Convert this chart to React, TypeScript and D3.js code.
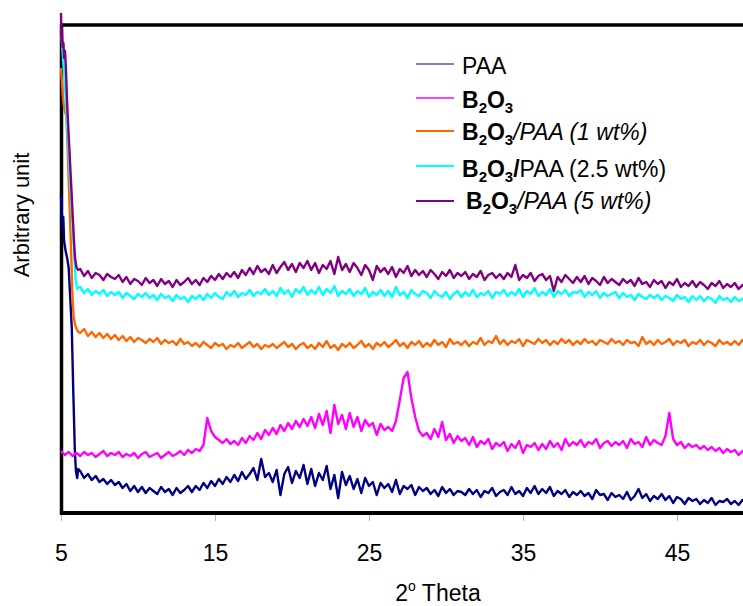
import React, { useEffect, useRef } from "react";
import * as d3 from "d3";

const W = 743;
const H = 606;

// x ticks (2 theta, degrees)
const xTicks = [5, 15, 25, 35, 45];

// Every series = a few hand-read points on the steep start (theta, intensity)
// followed by a scan read every 0.25 deg starting at 6.25 deg.
const SCAN_START = 6.25;
const SCAN_STEP = 0.25;

const paaHead = [
  [5.0, 318], [5.05, 300], [5.1, 285], [5.15, 296], [5.2, 272], [5.3, 262],
  [5.4, 255], [5.5, 245], [5.6, 215], [5.7, 185], [5.8, 120], [5.9, 62],
  [5.97, 42], [6.05, 35], [6.12, 44],
];
const paaScan = [
  42, 35, 39, 33, 37, 31, 34, 29, 33, 28,
  31, 25, 29, 22, 27, 21, 26, 20, 25, 22,
  19, 26, 21, 24, 18, 25, 20, 23, 27, 21,
  27, 23, 30, 25, 32, 27, 34, 29, 36, 31,
  38, 32, 41, 34, 39, 45, 33, 54, 36, 40,
  31, 43, 18, 39, 46, 30, 42, 35, 48, 29,
  44, 27, 40, 33, 47, 24, 38, 15, 41, 28,
  37, 24, 34, 20, 35, 27, 31, 18, 30, 25,
  29, 21, 33, 19, 27, 24, 28, 18, 26, 22,
  25, 19, 23, 17, 26, 20, 24, 18, 22, 21,
  18, 24, 19, 23, 16, 22, 20, 25, 17, 21,
  23, 18, 26, 19, 22, 17, 25, 20, 27, 19,
  24, 20, 26, 17, 22, 19, 23, 16, 21, 18,
  22, 17, 20, 14, 23, 18, 19, 13, 20, 16,
  18, 14, 21, 13, 17, 24, 15, 19, 12, 17,
  14, 19, 13, 17, 10, 16, 14, 9, 15, 12,
  14, 9, 13, 10, 15, 8, 12, 11, 14, 9,
  12, 8, 13, 10,
];

const b2o3Head = [[5.0, 62], [5.25, 58], [5.5, 61], [5.75, 57], [6.0, 60]];
const b2o3Scan = [
  57, 61, 58, 60, 56, 59, 62, 57, 60, 58,
  61, 56, 59, 57, 60, 55, 59, 61, 56, 58,
  60, 55, 58, 61, 57, 59, 62, 58, 63, 60,
  64, 62, 68, 95, 82, 76, 73, 70, 74, 69,
  72, 68, 75, 70, 77, 73, 80, 74, 83, 78,
  85, 79, 88, 82, 90, 84, 92, 86, 94, 87,
  96, 85, 99, 88, 102, 80, 108, 89, 98, 84,
  100, 86, 96, 82, 93, 87, 90, 78, 89, 83,
  86, 82, 92, 113, 135, 141, 115, 96, 82, 77,
  80, 74, 84, 76, 91, 73, 79, 70, 77, 72,
  75, 68, 76, 66, 72, 69, 74, 64, 70, 67,
  71, 62, 69, 65, 72, 60, 68, 66, 70, 63,
  69, 64, 72, 66, 70, 63, 74, 67, 71, 68,
  73, 66, 71, 69, 74, 65, 70, 72, 67, 71,
  68, 72, 65, 74, 69, 71, 66, 76, 68, 73,
  70, 68, 77, 100, 74, 68, 71, 65, 69, 66,
  68, 64, 67, 63, 66, 62, 65, 60, 64, 61,
  63, 58, 62, 59,
];

const wt1Head = [
  [5.0, 445], [5.07, 430], [5.13, 415], [5.2, 406], [5.27, 400], [5.35, 398],
  [5.45, 355], [5.55, 310], [5.65, 265], [5.75, 215], [5.82, 196],
  [5.92, 188], [6.02, 184], [6.12, 181],
];
const wt1Scan = [
  180, 184, 177, 181, 176, 180, 175, 179, 174, 178,
  173, 177, 172, 176, 171, 175, 173, 170, 174, 171,
  175, 169, 173, 170, 172, 168, 174, 169, 171, 167,
  170, 166, 171, 168, 165, 170, 167, 169, 164, 168,
  166, 170, 165, 168, 171, 166, 169, 164, 168, 166,
  169, 165, 168, 171, 166, 169, 164, 168, 170, 165,
  168, 164, 170, 166, 172, 165, 168, 163, 169, 166,
  170, 165, 168, 172, 166, 169, 164, 170, 167, 171,
  166, 169, 173, 167, 170, 165, 171, 168, 172, 166,
  170, 167, 173, 168, 171, 166, 174, 169, 171, 168,
  172, 167, 171, 169, 175, 168, 172, 170, 177, 169,
  173, 168, 172, 170, 174, 167, 173, 171, 169, 174,
  170, 173, 168, 172, 169, 174, 170, 173, 168, 172,
  169, 174, 170, 172, 168, 173, 171, 169, 174, 170,
  172, 168, 173, 170, 171, 167, 176, 169, 172, 168,
  173, 169, 171, 174, 168, 172, 170, 173, 167, 171,
  169, 173, 168, 172, 170, 167, 173, 169, 171, 168,
  172, 168, 173, 169,
];

const wt25Head = [
  [5.0, 478], [5.07, 470], [5.13, 455], [5.2, 440], [5.27, 425], [5.33, 408],
  [5.45, 372], [5.55, 344], [5.65, 316], [5.75, 289], [5.85, 261],
  [5.95, 233], [6.05, 224], [6.15, 226],
];
const wt25Scan = [
  226, 220, 224, 218, 222, 219, 223, 217, 221, 218,
  221, 215, 220, 217, 214, 219, 216, 220, 215, 218,
  213, 219, 215, 217, 212, 218, 214, 216, 211, 217,
  214, 218, 213, 219, 215, 220, 216, 214, 221, 217,
  222, 216, 220, 218, 223, 217, 221, 219, 224, 218,
  222, 217, 225, 219, 223, 216, 224, 220, 226, 218,
  223, 219, 226, 218, 224, 220, 227, 217, 222, 219,
  224, 217, 222, 219, 225, 216, 221, 218, 223, 217,
  222, 216, 226, 218, 221, 215, 223, 219, 217, 222,
  220, 215, 222, 218, 216, 221, 214, 219, 222, 216,
  221, 217, 223, 216, 220, 218, 222, 215, 221, 219,
  223, 217, 221, 218, 224, 216, 222, 219, 225, 217,
  221, 218, 224, 216, 222, 219, 223, 217, 221, 220,
  223, 216, 221, 218, 222, 215, 220, 217, 219, 221,
  215, 220, 216, 218, 213, 219, 216, 214, 218, 215,
  218, 213, 217, 215, 212, 218, 214, 216, 211, 217,
  213, 217, 212, 216, 214, 210, 217, 213, 215, 211,
  216, 212, 214, 211,
];

const wt5Head = [
  [5.0, 500], [5.03, 472], [5.06, 484], [5.1, 466], [5.16, 470], [5.2, 455],
  [5.26, 462], [5.32, 445], [5.39, 413], [5.45, 393], [5.58, 353],
  [5.71, 313], [5.84, 273], [5.91, 255], [6.0, 246], [6.1, 243],
];
const wt5Scan = [
  244, 237, 242, 235, 240, 238, 233, 239, 236, 234,
  238, 231, 236, 229, 234, 232, 228, 235, 230, 233,
  227, 234, 229, 232, 226, 233, 228, 231, 235, 229,
  233, 228, 235, 231, 237, 233, 239, 234, 240, 236,
  241, 235, 243, 238, 245, 239, 247, 241, 244, 239,
  248, 240, 246, 251, 243, 249, 241, 250, 245, 252,
  243, 250, 240, 248, 244, 252, 239, 256, 243, 249,
  241, 250, 245, 238, 248, 243, 233, 247, 241, 245,
  239, 246, 236, 244, 240, 247, 237, 243, 238, 242,
  236, 243, 239, 234, 241, 237, 243, 235, 240, 237,
  241, 234, 239, 236, 242, 233, 238, 240, 235, 239,
  234, 240, 236, 248, 233, 238, 235, 240, 232, 237,
  239, 233, 237, 222, 236, 231, 238, 234, 230, 236,
  231, 237, 229, 235, 232, 228, 236, 230, 234, 231,
  228, 234, 230, 233, 227, 235, 229, 231, 226, 233,
  229, 232, 225, 231, 228, 234, 226, 230, 227, 232,
  226, 231, 228, 224, 230, 227, 232, 225, 229, 226,
  230, 224, 228, 225,
];

type Part = { t: string; b?: boolean; i?: boolean; sub?: boolean };
const b2o3Label: Part[] = [
  { t: "B", b: true }, { t: "2", b: true, sub: true },
  { t: "O", b: true }, { t: "3", b: true, sub: true },
];

const series = [
  { name: "PAA", head: paaHead, scan: paaScan, color: "#000080", legendWidth: 1.2,
    label: [{ t: "PAA" }] as Part[] },
  { name: "B2O3", head: b2o3Head, scan: b2o3Scan, color: "#ff00ff", legendWidth: 1.6,
    label: b2o3Label },
  { name: "B2O3/PAA (1 wt%)", head: wt1Head, scan: wt1Scan, color: "#ff6600", legendWidth: 2.2,
    label: [...b2o3Label, { t: "/PAA (1 wt%)", i: true }] },
  { name: "B2O3/PAA (2.5 wt%)", head: wt25Head, scan: wt25Scan, color: "#00ffff", legendWidth: 2.2,
    label: [...b2o3Label, { t: "/", b: true }, { t: "PAA (2.5 wt%)" }] },
  { name: "B2O3/PAA (5 wt%)", head: wt5Head, scan: wt5Scan, color: "#800080", legendWidth: 2.2,
    label: [...b2o3Label, { t: "/PAA (5 wt%)", i: true }] },
];

const FONT = "'Liberation Sans', Arial, Helvetica, sans-serif";

export default function App() {
  const ref = useRef<SVGSVGElement>(null);

  useEffect(() => {
    const svg = d3.select(ref.current);
    svg.selectAll("*").remove();

    const x = d3.scaleLinear().domain([5, 50]).range([61, 754]);
    const y = d3.scaleLinear().domain([0, 488]).range([513, 25]);

    // axis ticks + labels
    const ax = svg
      .append("g")
      .attr("transform", `translate(0,${y(0)})`)
      .call(d3.axisBottom(x).tickValues(xTicks).tickSize(8).tickPadding(24).tickFormat(d3.format("d")));
    ax.select(".domain").remove();
    ax.selectAll(".tick line").attr("stroke", "#b4b4b4").attr("stroke-width", 1);
    ax.selectAll(".tick text")
      .attr("font-size", 23)
      .attr("font-family", FONT)
      .attr("fill", "#000");

    // frame: top, left, bottom
    svg.append("line").attr("x1", x(5)).attr("x2", W).attr("y1", y(488)).attr("y2", y(488))
      .attr("stroke", "#000").attr("stroke-width", 3.5);
    svg.append("line").attr("x1", x(5) + 0.5).attr("x2", x(5) + 0.5).attr("y1", y(488) - 1.5).attr("y2", y(0) + 1.5)
      .attr("stroke", "#000").attr("stroke-width", 3.5);
    svg.append("line").attr("x1", x(5) - 1).attr("x2", W).attr("y1", y(0)).attr("y2", y(0))
      .attr("stroke", "#000").attr("stroke-width", 4);

    const line = d3
      .line<number[]>()
      .x((d) => x(d[0]))
      .y((d) => y(d[1]));

    series.forEach((s) => {
      const pts = [
        ...s.head,
        ...s.scan.map((v, i) => [SCAN_START + i * SCAN_STEP, v]),
      ];
      svg
        .append("path")
        .datum(pts)
        .attr("fill", "none")
        .attr("stroke", s.color)
        .attr("stroke-width", 2.4)
        .attr("stroke-linejoin", "round")
        .attr("d", line);
    });

    // legend
    const legendRows = [64, 98, 131, 166, 201];
    const legendText = [74, 108, 140, 177, 209];
    const legendX = [462, 462, 462, 462, 466];
    series.forEach((s, idx) => {
      svg.append("line")
        .attr("x1", 416).attr("x2", 454)
        .attr("y1", legendRows[idx]).attr("y2", legendRows[idx])
        .attr("stroke", s.color).attr("stroke-width", s.legendWidth);
      const txt = svg.append("text")
        .attr("x", legendX[idx]).attr("y", legendText[idx])
        .attr("font-family", FONT).attr("font-size", 23).attr("fill", "#000");
      let shift = 0;
      s.label.forEach((p) => {
        const target = p.sub ? 5 : 0;
        txt.append("tspan")
          .attr("dy", target - shift)
          .attr("font-weight", p.b ? "bold" : "normal")
          .attr("font-style", p.i ? "italic" : "normal")
          .attr("font-size", p.sub ? 15 : 23)
          .text(p.t);
        shift = target;
      });
    });

    // axis titles
    const xt = svg.append("text")
      .attr("x", 438).attr("y", 601)
      .attr("text-anchor", "middle")
      .attr("font-family", FONT).attr("font-size", 23).attr("fill", "#000");
    xt.append("tspan").text("2");
    xt.append("tspan").attr("dy", -10).attr("font-size", 14).text("o");
    xt.append("tspan").attr("dy", 10).text(" Theta");

    svg.append("text")
      .attr("transform", `translate(29,${215}) rotate(-90)`)
      .attr("text-anchor", "middle")
      .attr("font-family", FONT).attr("font-size", 22).attr("fill", "#000")
      .text("Arbitrary unit");
  }, []);

  return (
    <svg
      ref={ref}
      width={W}
      height={H}
      style={{ position: "absolute", left: 0, top: 0, background: "#fff" }}
    ></svg>
  );
}
